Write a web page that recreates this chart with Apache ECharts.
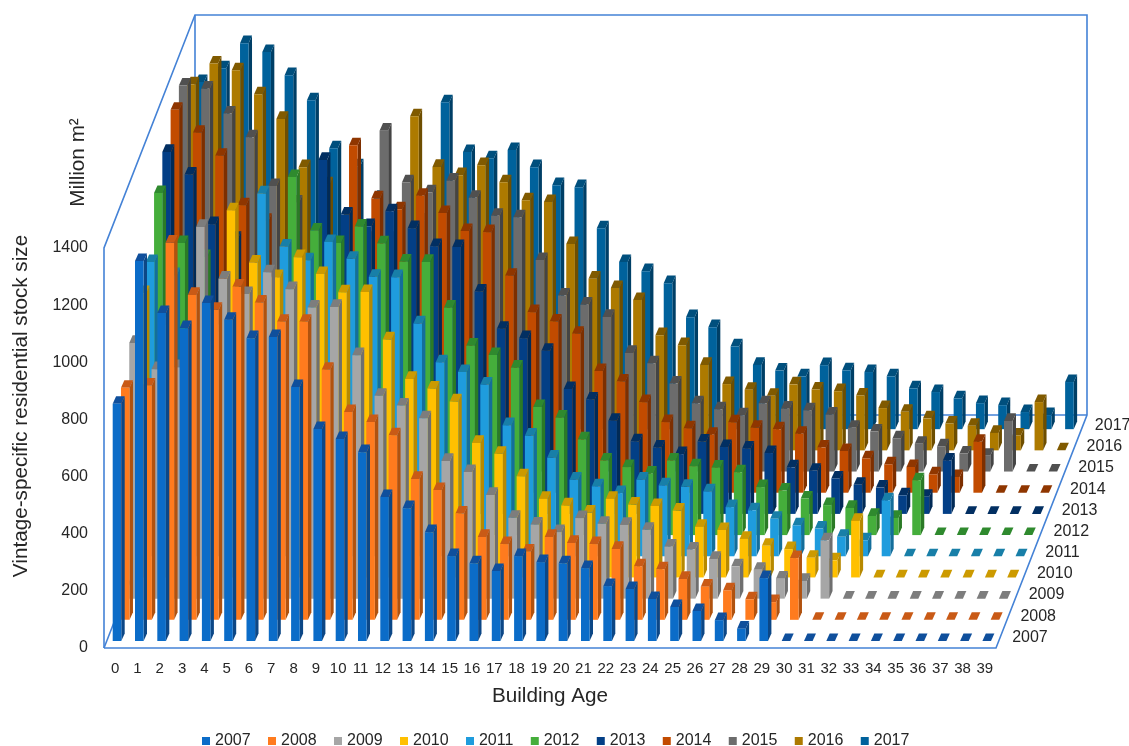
<!DOCTYPE html>
<html>
<head>
<meta charset="utf-8">
<title>Vintage-specific residential stock</title>
<script src="https://cdn.jsdelivr.net/npm/echarts@6/dist/echarts.min.js"></script>
<style>
  html, body { margin: 0; padding: 0; background: #fff; }
  #chart { width: 1129px; height: 746px; }
</style>
</head>
<body>
<div id="chart"></div>
<script>
const ages = ["0","1","2","3","4","5","6","7","8","9","10","11","12","13","14","15","16","17","18","19","20","21","22","23","24","25","26","27","28","29","30","31","32","33","34","35","36","37","38","39"];
const years = ["2007","2008","2009","2010","2011","2012","2013","2014","2015","2016","2017"];

// values, million m2, one list per year, by building age
const stock2007 = [830,1330,1148,1095,1183,1124,1060,1064,889,742,707,661,504,465,381,297,272,245,297,276,272,255,192,182,147,119,105,73,43,220,0,0,0,0,0,0,0,0,0,0];
const stock2008 = [812,820,1320,1137,1085,1166,1110,1043,1043,875,727,692,646,493,454,372,290,265,239,290,269,265,248,187,177,143,116,103,72,62,216,0,0,0,0,0,0,0,0,0];
const stock2009 = [895,803,810,1301,1120,1066,1142,1083,1019,1021,852,710,676,631,482,443,363,283,259,233,282,262,258,241,182,172,139,113,101,70,62,204,0,0,0,0,0,0,0,0];
const stock2010 = [995,885,794,800,1285,1102,1051,1121,1062,998,999,833,695,661,616,471,433,354,275,252,227,275,255,250,234,177,166,135,111,99,69,60,198,0,0,0,0,0,0,0];
const stock2011 = [1030,984,874,785,790,1270,1084,1036,1100,1041,978,977,815,679,645,601,459,422,345,268,245,221,268,248,243,227,172,161,131,108,97,68,56,196,0,0,0,0,0,0];
const stock2012 = [1197,1022,973,863,776,780,1253,1066,1022,1080,1021,957,956,796,663,630,586,448,411,335,261,238,215,261,241,236,220,168,156,128,105,95,67,60,192,0,0,0,0,0];
const stock2013 = [1267,1188,1014,963,853,767,770,1239,1048,1007,1059,1000,937,934,778,648,615,571,437,400,326,254,232,209,253,234,229,213,163,151,124,102,92,65,60,187,0,0,0,0];
const stock2014 = [1340,1260,1179,1006,952,842,758,760,1216,1030,992,1039,979,916,912,759,632,599,556,426,389,317,247,225,203,246,227,222,206,158,146,120,99,90,64,55,178,0,0,0];
const stock2015 = [1351,1340,1253,1170,999,941,832,749,750,1193,1012,977,1018,958,895,890,740,616,584,541,415,379,308,239,218,197,239,220,214,199,153,140,116,97,88,63,55,177,0,0];
const stock2016 = [1281,1354,1330,1246,1160,991,931,821,740,740,1169,992,963,998,938,875,869,722,601,568,526,403,368,299,232,212,191,231,213,207,192,148,135,112,94,86,61,52,169,0];
const stock2017 = [1215,1263,1351,1320,1239,1151,983,920,810,730,730,1144,970,948,977,917,854,847,703,585,553,511,392,357,290,225,205,185,224,206,200,185,143,130,108,91,84,60,49,165];
const stockByYear = [stock2007,stock2008,stock2009,stock2010,stock2011,stock2012,stock2013,stock2014,stock2015,stock2016,stock2017];

const frontColors = ["#0b6cc8","#ff7b1e","#a6a6a6","#ffc000","#1f9cdd","#45ae3b","#033f86","#c24b00","#6c6c6c","#ad7a00","#00629c"];
const topColors   = ["#0f4f9c","#c95a16","#7d7d7d","#cc9a00","#187fa8","#2f8a2e","#022f62","#8f3600","#505050","#805a00","#004f7d"];
const sideColors  = ["#0c4786","#b0520f","#6f6f6f","#b78900","#146e9b","#2b7a26","#012a56","#7d2f00","#444444","#6e4e00","#003f66"];

const chart = echarts.init(document.getElementById("chart"));

// oblique projection of the depth axis
const depthX = 91, depthY = 233;
const rowX = depthX / years.length, rowY = depthY / years.length;
const barW = 8.6, barDX = 3.4, barDY = 7.6;

function renderBar(row) {
  return function (params, api) {
    const base = api.coord([api.value(0), 0]);
    const top = api.coord([api.value(0), api.value(1)]);
    const x = base[0] - 2.45 + rowX * row;
    const y0 = base[1] - 7 - rowY * row;
    const y1 = top[1] - 7 - rowY * row;
    const r = x + barW;
    const children = [
      { type: "polygon", shape: { points: [[r, y1], [r + barDX, y1 - barDY], [r + barDX, y0 - barDY], [r, y0]] }, style: { fill: sideColors[row] } },
      { type: "polygon", shape: { points: [[x, y1], [x + barDX, y1 - barDY], [r + barDX, y1 - barDY], [r, y1]] }, style: { fill: topColors[row] } }
    ];
    if (y0 - y1 > 0.1) {
      children.push({ type: "rect", shape: { x: x, y: y1, width: barW, height: y0 - y1 }, style: { fill: frontColors[row] } });
    }
    return { type: "group", children: children };
  };
}

function renderBox(params, api) {
  const c = params.coordSys;
  const l = c.x, r = c.x + c.width, t = c.y, b = c.y + c.height;
  const line = (pts) => ({ type: "polyline", shape: { points: pts }, style: { fill: "none", stroke: "#4482d6", lineWidth: 1.6 } });
  return {
    type: "group",
    children: [
      line([[l + depthX, t - depthY], [l + depthX, b - depthY], [r + depthX, b - depthY]]),
      line([[l, b], [l + depthX, b - depthY]]),
      line([[l, b], [l, t], [l + depthX, t - depthY], [r + depthX, t - depthY], [r + depthX, b - depthY], [r, b], [l, b]])
    ]
  };
}

function renderDepthLabel(params, api) {
  const c = params.coordSys;
  const row = params.dataIndex;
  return {
    type: "text",
    style: {
      text: years[row],
      x: c.x + c.width + rowX * (row + 0.5) + 12,
      y: c.y + c.height - rowY * (row + 0.5),
      font: "16px 'Liberation Sans'",
      fill: "#262626",
      textVerticalAlign: "middle"
    }
  };
}

const barSeries = years.map((year, row) => ({
  name: year,
  type: "custom",
  z: 20 - row,
  renderItem: renderBar(row),
  encode: { x: 0, y: 1 },
  itemStyle: { color: frontColors[row] },
  data: stockByYear[row].map((v, i) => [i, v])
}));

chart.setOption({
  animation: false,
  backgroundColor: "#fff",
  textStyle: { fontFamily: "'Liberation Sans'" },
  grid: { left: 104, right: 133, top: 248, bottom: 98 },
  xAxis: {
    type: "category",
    data: ages,
    boundaryGap: true,
    name: "Building Age",
    nameLocation: "middle",
    nameGap: 38,
    nameTextStyle: { fontSize: 20.7, color: "#262626" },
    axisLine: { show: false },
    axisTick: { show: false },
    splitLine: { show: false },
    axisLabel: { interval: 0, fontSize: 15, color: "#262626", margin: 13 }
  },
  yAxis: {
    type: "value",
    min: 0,
    max: 1400,
    interval: 200,
    axisLine: { show: false },
    axisTick: { show: false },
    splitLine: { show: false },
    axisLabel: { fontSize: 16, color: "#262626", margin: 16, formatter: (v) => String(v) }
  },
  legend: {
    data: years,
    left: 197,
    top: 728,
    itemWidth: 8,
    itemHeight: 8,
    itemGap: 17.4,
    icon: "rect",
    textStyle: { fontSize: 16, color: "#262626" }
  },
  graphic: [
    { type: "text", x: 21, y: 406, rotation: Math.PI / 2, style: { text: "Vintage-specific residential stock size", font: "20.7px 'Liberation Sans'", fill: "#262626", textAlign: "center", textVerticalAlign: "middle" } },
    { type: "text", x: 78, y: 162.5, rotation: Math.PI / 2, style: { text: "Million m²", font: "20.7px 'Liberation Sans'", fill: "#262626", textAlign: "center", textVerticalAlign: "middle" } }
  ],
  series: [
    { type: "custom", name: "box", z: 1, silent: true, renderItem: renderBox, data: [[0, 0]], encode: { x: 0, y: 1 } },
    { type: "custom", name: "depth", z: 2, silent: true, renderItem: renderDepthLabel, data: years.map((y, i) => [i, 0]), encode: { x: 0, y: 1 } }
  ].concat(barSeries)
});

window.addEventListener("resize", () => chart.resize());
</script>
</body>
</html>
